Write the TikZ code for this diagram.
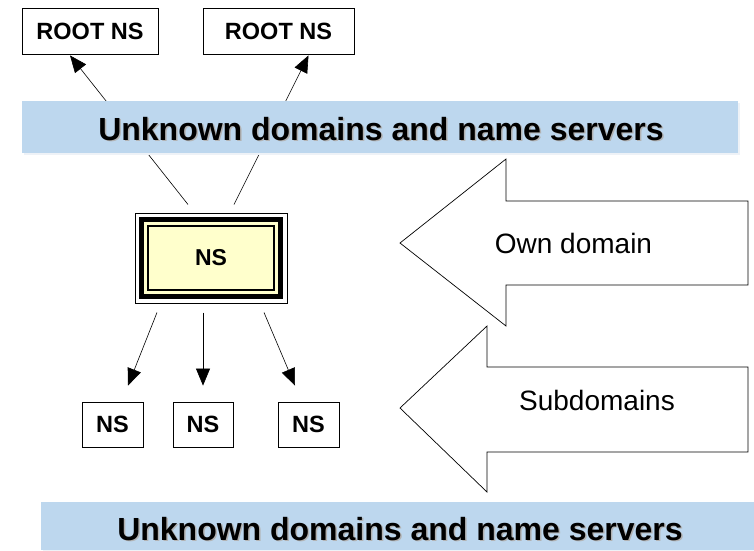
\documentclass[tikz,border=0pt]{standalone}
\usepackage{fontspec}
\setmainfont{Liberation Sans}
\usetikzlibrary{arrows.meta,calc}
\definecolor{bannerblue}{HTML}{BDD7EE}
\definecolor{bannershadow}{HTML}{EEF2F7}
\definecolor{nsyellow}{HTML}{FFFFCC}
\begin{document}
\begin{tikzpicture}[x=1pt,y=-1pt,
  box/.style={draw, line width=0.8pt, fill=white, inner sep=0pt, font=\bfseries\fontsize{23.5}{28}\selectfont},
  conn/.style={line width=0.6pt, -{Triangle[length=17pt,width=14pt]}},
  bannertext/.style={font=\bfseries\fontsize{32}{38}\selectfont, inner sep=0pt, anchor=base},
  bigarrow/.style={draw, line width=0.7pt, fill=white, line join=miter},
  arrowtext/.style={font=\fontsize{28}{33}\selectfont, inner sep=0pt, anchor=base}]
\useasboundingbox (0,0) rectangle (754,550);

% root boxes
\node[box, minimum width=136pt, minimum height=46pt] (root1) at (90,31) {ROOT NS};
\node[box, minimum width=151pt, minimum height=46pt] (root2) at (278.5,31) {ROOT NS};

% main NS box
\node[draw, line width=1pt, fill=white, minimum width=152pt, minimum height=90pt, inner sep=0pt] (ns) at (211,258) {};
\fill[black] (139,217) rectangle (283,299);
\fill[nsyellow] (144,222) rectangle (278,294);
\draw[line width=2pt, fill=nsyellow] (148,226) rectangle (274,290);
\node[font=\bfseries\fontsize{23}{27}\selectfont, inner sep=0pt] (nslabel) at (ns.center) {NS};

% connectors to roots (under banner)
\draw[conn] ([xshift=-23pt,yshift=8pt]ns.north) -- ([xshift=-20pt,yshift=-1pt]root1.south);
\draw[conn] ([xshift=23pt,yshift=8pt]ns.north) -- ([xshift=30pt,yshift=-1pt]root2.south);

% banner 1
\fill[bannershadow] (24,103) rectangle (740,155);
\fill[bannerblue] (22,101) rectangle (738,153);
\node[bannertext, text=black!30] at (382.5,141.5) {Unknown domains and name servers};
\node[bannertext] (ban1) at (381,140) {Unknown domains and name servers};

% sub NS boxes
\node[box, minimum width=61pt, minimum height=45pt] (sub1) at (112.5,424.5) {NS};
\node[box, minimum width=60pt, minimum height=45pt] (sub2) at (203,424.5) {NS};
\node[box, minimum width=61pt, minimum height=45pt] (sub3) at (308.5,424.5) {NS};

\draw[conn] ([xshift=-54pt,yshift=-9pt]ns.south) -- ([xshift=15.5pt,yshift=16pt]sub1.north);
\draw[conn] ([xshift=-8pt,yshift=-9pt]ns.south) -- ([yshift=16pt]sub2.north);
\draw[conn] ([xshift=53pt,yshift=-9pt]ns.south) -- ([xshift=-13.5pt,yshift=16pt]sub3.north);

% big arrows
\draw[bigarrow] (400,243) -- (506,159) -- (506,201) -- (748,201) -- (748,285) -- (506,285) -- (506,326) -- cycle;
\node[arrowtext] (own) at (573.5,253) {Own domain};
\draw[bigarrow] (400,408) -- (487,326) -- (487,367) -- (748,367) -- (748,452) -- (487,452) -- (487,492) -- cycle;
\node[arrowtext] (subd) at (597,410) {Subdomains};

% banner 2
\fill[bannershadow] (43,504) rectangle (756,552);
\fill[bannerblue] (41,502) rectangle (754,550);
\node[bannertext, text=black!30] at (401.5,541.5) {Unknown domains and name servers};
\node[bannertext] (ban2) at (400,540) {Unknown domains and name servers};
\end{tikzpicture}
\end{document}
